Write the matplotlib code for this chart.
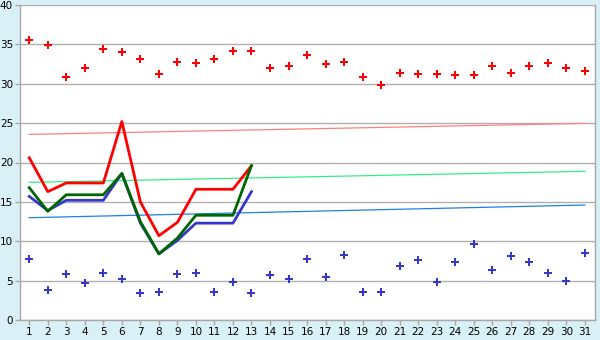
import matplotlib
matplotlib.use("Agg")
import matplotlib.pyplot as plt
import numpy as np

days = list(range(1, 32))

red_points = [35.6, 34.9, 30.9, 32.0, 34.4, 34.0, 33.2, 31.3, 32.7, 32.6,
              33.2, 34.2, 34.2, 32.0, 32.2, 33.7, 32.5, 32.8, 30.8, 29.9,
              31.4, 31.2, 31.3, 31.1, 31.1, 32.3, 31.4, 32.2, 32.6, 32.0, 31.6]
blue_points = [7.8, 3.8, 5.9, 4.7, 6.0, 5.2, 3.4, 3.5, 5.9, 6.0,
               3.5, 4.8, 3.4, 5.7, 5.2, 7.8, 5.5, 8.3, 3.5, 3.5,
               6.8, 7.6, 4.8, 7.4, 9.6, 6.4, 8.1, 7.4, 6.0, 5.0, 8.5]

line_days = list(range(1, 14))
red_line = [20.6, 16.3, 17.4, 17.4, 17.4, 25.2, 15.0, 10.7, 12.4, 16.6, 16.6, 16.6, 19.6]
green_line = [16.8, 13.8, 15.9, 15.9, 15.9, 18.6, 12.5, 8.4, 10.4, 13.3, 13.3, 13.3, 19.6]
blue_line = [15.7, 13.9, 15.2, 15.2, 15.2, 18.6, 12.3, 8.4, 10.1, 12.3, 12.3, 12.3, 16.3]

trend_days = [1, 31]
red_trend = [23.57, 24.97]
green_trend = [17.48, 18.88]
blue_trend = [12.99, 14.6]

yticks = list(range(0, 41, 5))

fig = plt.figure(figsize=(6, 3.4), dpi=100)
fig.patch.set_facecolor("#D9F0F6")
ax = fig.add_axes([20/600, 20/340, 575/600, 315/340])
ax.set_facecolor("white")

ax.set_xlim(0.5, 31.55)
ax.set_ylim(0, 40)
ax.set_yticks(yticks)
ax.set_xticks(days)
ax.yaxis.grid(True, color="#B0B0B0", linewidth=1.0)
ax.set_axisbelow(True)

for s in ["left", "right", "bottom"]:
    ax.spines[s].set_color("#A8A8A8")
    ax.spines[s].set_linewidth(1.0)
ax.spines["top"].set_visible(False)

ax.tick_params(axis="both", colors="#A8A8A8", labelcolor="black", labelsize=7.5,
               length=3.5, width=1, pad=1.5)

ax.plot(trend_days, red_trend, color="#FF8080", lw=0.9, zorder=2)
ax.plot(trend_days, green_trend, color="#33EE88", lw=0.9, zorder=2)
ax.plot(trend_days, blue_trend, color="#1E7FE8", lw=0.9, zorder=2)

ax.plot(line_days, blue_line, color="#3838C8", lw=2.0, zorder=3)
ax.plot(line_days, red_line, color="#FF0000", lw=2.0, zorder=4)
ax.plot(line_days, green_line, color="#006600", lw=2.0, zorder=5)

ax.plot(days, red_points, linestyle="none", marker="P", markersize=5.5,
        color="#FF0000", markeredgewidth=0, zorder=6)
ax.plot(days, blue_points, linestyle="none", marker="P", markersize=5.5,
        color="#3838C8", markeredgewidth=0, zorder=6)

fig.savefig("out.png", dpi=100, facecolor=fig.get_facecolor())
